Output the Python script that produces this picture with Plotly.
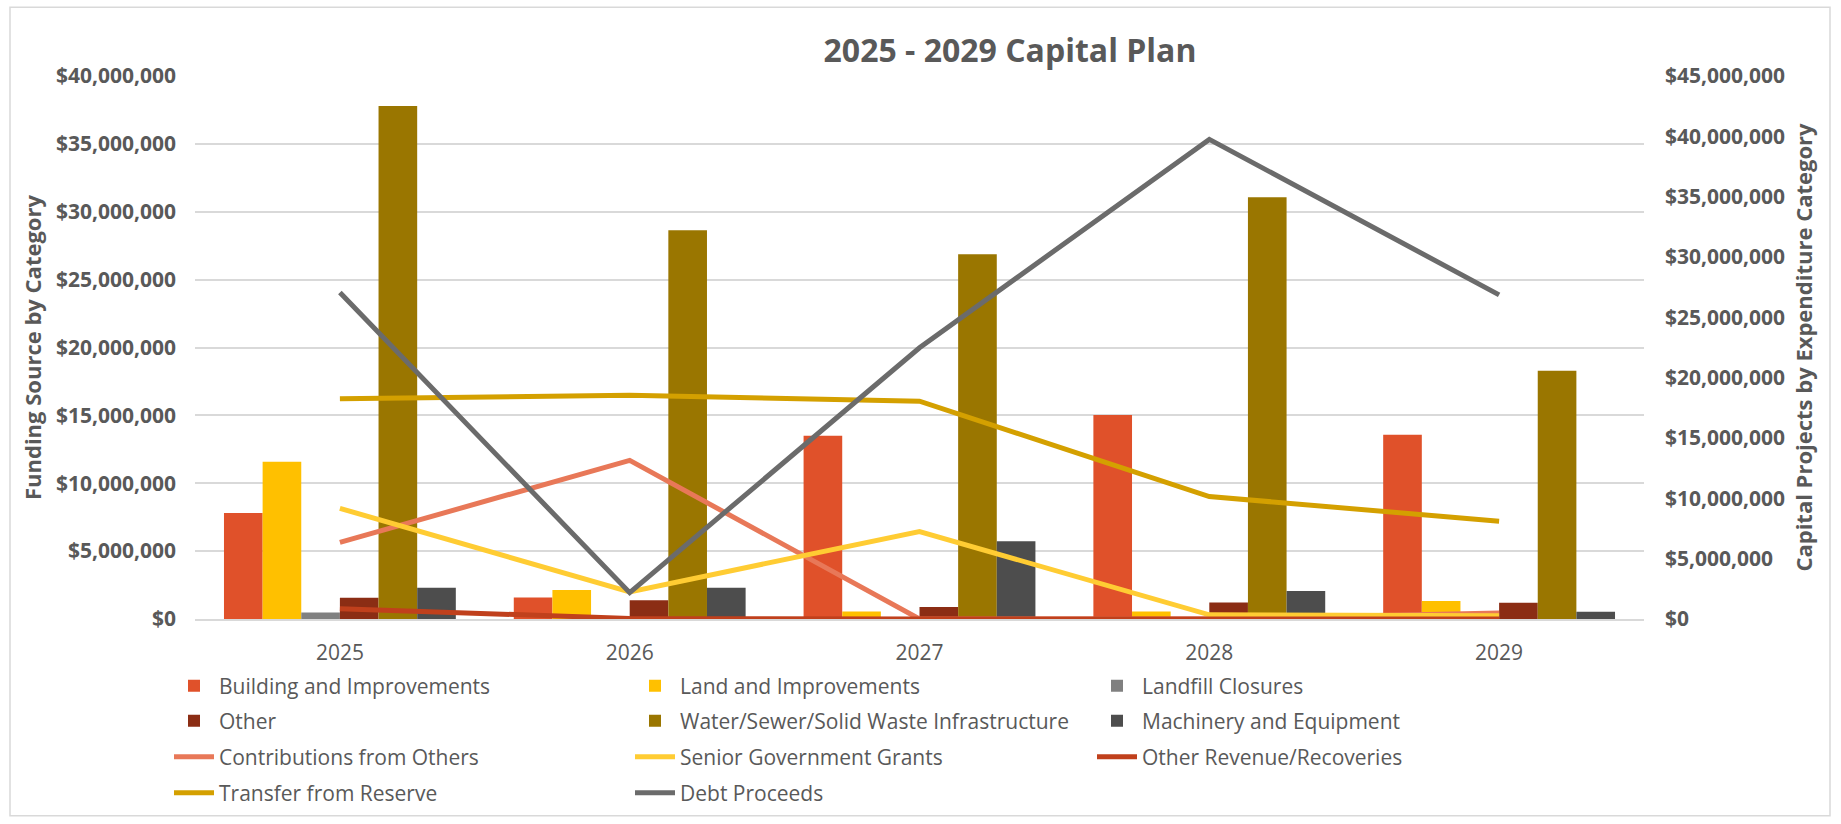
import plotly.graph_objects as go

# ---------------- data ----------------
years = ["2025", "2026", "2027", "2028", "2029"]

# expenditure categories (bars)
building = [7.8e6, 1.58e6, 13.5e6, 15.02e6, 13.58e6]
land = [11.58e6, 2.14e6, 0.56e6, 0.56e6, 1.33e6]
landfill = [0.48e6, 0.0, 0.05e6, 0.0, 0.0]
other = [1.56e6, 1.38e6, 0.89e6, 1.22e6, 1.2e6]
water = [37.79e6, 28.63e6, 26.87e6, 31.06e6, 18.28e6]
machinery = [2.3e6, 2.3e6, 5.72e6, 2.06e6, 0.54e6]

# funding sources (lines)
contributions = [6.35e6, 13.15e6, 0.0, 0.0, 0.5e6]
senior_grants = [9.17e6, 2.25e6, 7.25e6, 0.35e6, 0.26e6]
other_revenue = [0.85e6, 0.05e6, 0.0, 0.0, 0.0]
transfer_reserve = [18.26e6, 18.54e6, 18.05e6, 10.15e6, 8.1e6]
debt = [27.05e6, 2.18e6, 22.48e6, 39.75e6, 26.86e6]

bar_names = ["Building and Improvements", "Land and Improvements", "Landfill Closures",
             "Other", "Water/Sewer/Solid Waste Infrastructure", "Machinery and Equipment"]
bar_values = [building, land, landfill, other, water, machinery]
bar_colors = ["#E0512A", "#FFC000", "#808080", "#8B2D14", "#9A7600", "#4D4D4D"]

line_names = ["Contributions from Others", "Senior Government Grants", "Other Revenue/Recoveries",
              "Transfer from Reserve", "Debt Proceeds"]
line_values = [contributions, senior_grants, other_revenue, transfer_reserve, debt]
line_colors = ["#E87858", "#FFCC33", "#C0401C", "#D4A000", "#6B6B6B"]

FONT = "Open Sans"
GREY = "#595959"

W, H = 1841, 824
L, R, T, B = 195, 1644, 76, 620
pw = R - L
ph = B - T


def px_x(x):
    return (x - L) / pw


def px_y(y):
    return (B - y) / ph


# legend slot positions (pixels): 3 columns x 4 rows
leg_cols = [169, 630, 1092]
leg_rows = [686, 721, 757, 793]

fig = go.Figure()
legends = {}
k = 0
for n, v, c in zip(bar_names, bar_values, bar_colors):
    lname = "legend" if k == 0 else "legend%d" % (k + 1)
    fig.add_trace(go.Bar(x=years, y=v, name=n, marker=dict(color=c, line=dict(width=0)),
                         yaxis="y", legend=lname, showlegend=True))
    legends[lname] = (leg_cols[k % 3], leg_rows[k // 3])
    k += 1
for n, v, c in zip(line_names, line_values, line_colors):
    lname = "legend%d" % (k + 1)
    fig.add_trace(go.Scatter(x=years, y=v, name=n, mode="lines",
                             line=dict(color=c, width=5), yaxis="y2", legend=lname,
                             showlegend=True))
    legends[lname] = (leg_cols[k % 3], leg_rows[k // 3])
    k += 1

legend_layout = {}
for lname, (lx, ly) in legends.items():
    legend_layout[lname] = dict(orientation="h", x=px_x(lx), xanchor="left",
                                y=px_y(ly), yanchor="middle", itemwidth=40,
                                font=dict(family=FONT, size=21, color=GREY),
                                bgcolor="rgba(0,0,0,0)", borderwidth=0, visible=True)

fig.update_layout(
    width=W, height=H,
    showlegend=True,
    margin=dict(l=L, r=W - R, t=T, b=H - B, pad=0),
    paper_bgcolor="white", plot_bgcolor="white",
    font=dict(family=FONT, color=GREY),
    barmode="group", bargap=0.2, bargroupgap=0,
    title=dict(text="<b>2025 - 2029 Capital Plan</b>", font=dict(family=FONT, size=32, color=GREY),
               x=1010 / W, xref="container", xanchor="center",
               y=1 - 51 / H, yref="container", yanchor="middle"),
    xaxis=dict(type="category", showgrid=False, showline=True, linecolor="#D9D9D9", linewidth=1.5,
               ticks="", ticklabelstandoff=14,
               tickfont=dict(family=FONT, size=21, color=GREY)),
    yaxis=dict(range=[0, 40e6], dtick=5e6, tick0=0, tickprefix="$", tickformat=",d",
               showgrid=True, gridcolor="#D9D9D9", gridwidth=1.5, zeroline=False,
               ticks="", ticklabelstandoff=18,
               tickfont=dict(family=FONT, size=21, color=GREY, weight="bold"),
               title=dict(text="Funding Source by Category", standoff=8,
                          font=dict(family=FONT, size=22, color=GREY, weight="bold"))),
    yaxis2=dict(overlaying="y", side="right", range=[0, 45e6], dtick=5e6, tick0=0,
                tickprefix="$", tickformat=",d", showgrid=False, zeroline=False,
                ticks="", ticklabelstandoff=20,
                tickfont=dict(family=FONT, size=21, color=GREY, weight="bold"),
                title=dict(text="Capital Projects by Expenditure Category", standoff=12,
                           font=dict(family=FONT, size=22, color=GREY, weight="bold"))),
    shapes=[dict(type="rect", xref="paper", yref="paper",
                 x0=px_x(10), x1=px_x(1830), y0=px_y(817), y1=px_y(7),
                 line=dict(color="#D9D9D9", width=1.5), fillcolor="rgba(0,0,0,0)", layer="below")],
    hovermode=False,
    **legend_layout,
)

fig.write_html("out.html", config={"displayModeBar": False},
               post_script="document.body.style.margin='0';document.body.style.overflow='hidden';")
